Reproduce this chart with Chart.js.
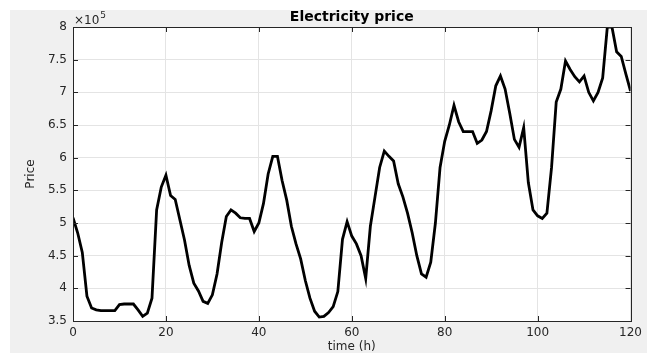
<!DOCTYPE html>
<html lang="en">
<head>
    <meta charset="UTF-8">
    <title>Electricity price</title>
    <style>
        body {
            margin: 0;
            padding: 0;
            background-color: #fff;
        }
        #chart {
            display: block;
        }
    </style>
    <script src="https://cdn.jsdelivr.net/npm/chart.js"></script>
</head>
<body>
    <canvas id="chart" width="647" height="356"></canvas>

    <script>
        // hourly price, in units of 10^5
        const price = [
            5.08, 4.85, 4.55, 3.88, 3.70, 3.67, 3.66, 3.66, 3.66, 3.66,
            3.75, 3.76, 3.76, 3.76, 3.67, 3.57, 3.62, 3.85, 5.20, 5.55,
            5.73, 5.42, 5.36, 5.05, 4.74, 4.35, 4.08, 3.96, 3.80, 3.77,
            3.90, 4.22, 4.70, 5.10, 5.20, 5.15, 5.08, 5.07, 5.07, 4.87,
            5.00, 5.30, 5.75, 6.02, 6.02, 5.65, 5.35, 4.95, 4.68, 4.45,
            4.12, 3.85, 3.65, 3.56, 3.57, 3.63, 3.72, 3.95, 4.75, 5.02,
            4.80, 4.68, 4.50, 4.15, 4.95, 5.40, 5.85, 6.10, 6.02, 5.95,
            5.60, 5.40, 5.15, 4.85, 4.50, 4.22, 4.17, 4.40, 5.00, 5.85,
            6.25, 6.50, 6.80, 6.55, 6.40, 6.40, 6.40, 6.22, 6.27, 6.40,
            6.72, 7.10, 7.25, 7.05, 6.68, 6.28, 6.16, 6.46, 5.62, 5.20,
            5.11, 5.07, 5.15, 5.85, 6.85, 7.05, 7.48, 7.35, 7.24, 7.16,
            7.25, 7.00, 6.87, 7.00, 7.22, 8.00, 8.00, 7.62, 7.55, 7.28,
            7.02
        ];
        const hours = price.map((p, i) => i);

        const xTicks = [0, 20, 40, 60, 80, 100, 120];
        const yTicks = [3.5, 4, 4.5, 5, 5.5, 6, 6.5, 7, 7.5, 8];
        const exponent = 5;

        const FONT = "'DejaVu Sans', sans-serif";
        const AXIS_COLOR = '#262626';

        // grey figure background with a white plot box
        const background = {
            id: 'background',
            beforeDraw(chart) {
                const ctx = chart.ctx;
                const a = chart.chartArea;
                ctx.save();
                ctx.fillStyle = '#ffffff';
                ctx.fillRect(0, 0, chart.width, chart.height);
                ctx.fillStyle = '#f0f0f0';
                ctx.fillRect(10, 10, chart.width - 10, chart.height - 13);
                ctx.fillStyle = '#ffffff';
                ctx.fillRect(a.left, a.top, a.right - a.left, a.bottom - a.top);
                ctx.restore();
            }
        };

        // box around the axes, inward tick marks and the x10^5 multiplier
        const axesBox = {
            id: 'axesBox',
            afterDraw(chart) {
                const ctx = chart.ctx;
                const a = chart.chartArea;
                const xs = chart.scales.x;
                const ys = chart.scales.y;
                const len = 5;
                ctx.save();
                ctx.strokeStyle = AXIS_COLOR;
                ctx.lineWidth = 1;
                ctx.beginPath();
                xTicks.forEach(v => {
                    const px = Math.round(xs.getPixelForValue(v)) + 0.5;
                    ctx.moveTo(px, a.bottom);
                    ctx.lineTo(px, a.bottom - len);
                    ctx.moveTo(px, a.top);
                    ctx.lineTo(px, a.top + len);
                });
                yTicks.forEach(v => {
                    const py = Math.round(ys.getPixelForValue(v)) + 0.5;
                    ctx.moveTo(a.left, py);
                    ctx.lineTo(a.left + len, py);
                    ctx.moveTo(a.right, py);
                    ctx.lineTo(a.right - len, py);
                });
                ctx.stroke();
                ctx.strokeRect(Math.round(a.left) + 0.5, Math.round(a.top) + 0.5,
                    Math.round(a.right - a.left), Math.round(a.bottom - a.top));

                ctx.fillStyle = AXIS_COLOR;
                ctx.textBaseline = 'alphabetic';
                ctx.textAlign = 'left';
                ctx.font = '12px ' + FONT;
                ctx.fillText('\u00d710', a.left + 1, a.top - 3);
                const w = ctx.measureText('\u00d710').width;
                ctx.font = '9px ' + FONT;
                ctx.fillText(String(exponent), a.left + 1 + w + 1, a.top - 9);
                ctx.restore();
            }
        };

        new Chart(document.getElementById('chart'), {
            type: 'line',
            data: {
                labels: hours,
                datasets: [{
                    label: 'Price',
                    data: price,
                    borderColor: '#000000',
                    borderWidth: 2.8,
                    pointRadius: 0,
                    tension: 0,
                    fill: false
                }]
            },
            options: {
                responsive: false,
                animation: false,
                devicePixelRatio: 1,
                layout: {
                    padding: { top: 9, right: 15, left: 0, bottom: 0 }
                },
                plugins: {
                    legend: { display: false },
                    tooltip: { enabled: false },
                    title: {
                        display: true,
                        text: 'Electricity price',
                        fullSize: false,
                        color: '#000000',
                        font: { family: FONT, size: 14, weight: 'bold' },
                        padding: { top: 0, bottom: 1.2 }
                    }
                },
                scales: {
                    x: {
                        type: 'linear',
                        min: 0,
                        max: 120,
                        afterBuildTicks: s => { s.ticks = xTicks.map(v => ({ value: v })); },
                        afterFit: s => { s.height = 35; },
                        grid: { color: '#e4e4e4', drawTicks: false },
                        border: { display: false },
                        ticks: {
                            color: AXIS_COLOR,
                            padding: 5,
                            maxRotation: 0,
                            font: { family: FONT, size: 12 }
                        },
                        title: {
                            display: true,
                            text: 'time (h)',
                            color: AXIS_COLOR,
                            font: { family: FONT, size: 12 },
                            padding: { top: 0, bottom: 1.8 }
                        }
                    },
                    y: {
                        min: 3.5,
                        max: 8,
                        afterBuildTicks: s => { s.ticks = yTicks.map(v => ({ value: v })); },
                        afterFit: s => { s.width = 73; },
                        grid: { color: '#e4e4e4', drawTicks: false },
                        border: { display: false },
                        ticks: {
                            color: AXIS_COLOR,
                            padding: 6,
                            font: { family: FONT, size: 12 },
                            callback: v => String(v)
                        },
                        title: {
                            display: true,
                            text: 'Price',
                            color: AXIS_COLOR,
                            font: { family: FONT, size: 12 },
                            padding: { top: 23.8, bottom: 0 }
                        }
                    }
                }
            },
            plugins: [background, axesBox]
        });
    </script>
</body>
</html>
